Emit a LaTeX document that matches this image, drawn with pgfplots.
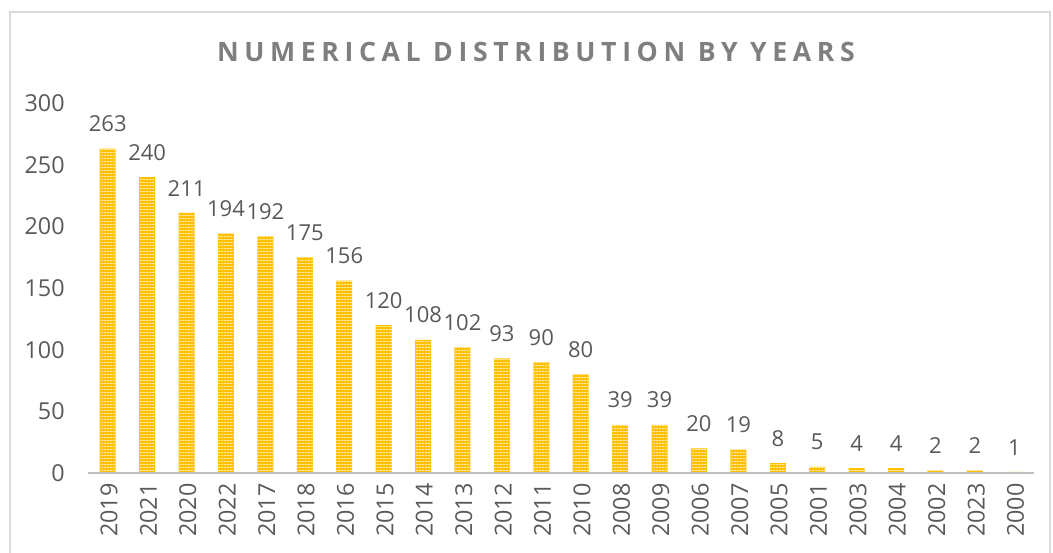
\documentclass[border=0pt]{standalone}
\usepackage{pgfplots}
\pgfplotsset{compat=1.18}
\usepackage{fontspec}
\setmainfont{Open Sans}
\newfontfamily\titlefont[LetterSpace=21]{Open Sans}
\usetikzlibrary{patterns}
\definecolor{barc}{HTML}{FFC000}
\definecolor{stripec}{HTML}{FFE8A0}
\definecolor{txt}{HTML}{595959}
\definecolor{ttl}{HTML}{7F7F7F}
\definecolor{axc}{HTML}{BFBFBF}
\definecolor{brd}{HTML}{D9D9D9}
\pgfdeclarepatternformonly{hstripes}{\pgfpointorigin}{\pgfqpoint{2.3pt}{2.3pt}}{\pgfqpoint{2.3pt}{2.3pt}}{%
  \pgfpathrectangle{\pgfqpoint{-0.1pt}{0pt}}{\pgfqpoint{2.5pt}{0.9pt}}\pgfusepath{fill}}
\pgfplotstableread{
idx year val
0 2019 263
1 2021 240
2 2020 211
3 2022 194
4 2017 192
5 2018 175
6 2016 156
7 2015 120
8 2014 108
9 2013 102
10 2012 93
11 2011 90
12 2010 80
13 2008 39
14 2009 39
15 2006 20
16 2007 19
17 2005 8
18 2001 5
19 2003 4
20 2004 4
21 2002 2
22 2023 2
23 2000 1
}\datatable
\begin{document}
\begin{tikzpicture}
\useasboundingbox (-66pt,-60pt) rectangle (723.75pt,354.75pt);
\draw[brd, line width=1pt] (-58.5pt,-80pt) rectangle (721.5pt,345.75pt);
\begin{axis}[
  at={(0,0)}, anchor=south west,
  scale only axis,
  width=709.5pt, height=277.5pt,
  xmin=-0.5, xmax=23.5,
  ymin=0, ymax=300,
  ytick={0,50,...,300},
  xtick=data,
  xticklabels from table={\datatable}{year},
  axis line style={draw=none},
  tick style={draw=none},
  /pgf/number format/assume math mode=true,
  ticklabel style={font=\fontsize{17.5}{20}\selectfont, text=txt},
  x tick label style={rotate=90, anchor=east, xshift=0pt, yshift=-1pt},
  y tick label style={xshift=-14pt},
  ybar, bar width=12pt,
  clip=false,
  nodes near coords,
  nodes near coords style={font=\fontsize{16.5}{19}\selectfont, text=txt, yshift=9pt},
]
\addplot[draw=none, fill=barc, postaction={pattern=hstripes, pattern color=stripec}] table[x=idx, y=val] {\datatable};
\draw[axc, line width=2pt] (axis cs:-0.5,0) -- (axis cs:23.5,0);
\end{axis}
\node[font=\titlefont\bfseries\fontsize{20}{24}\selectfont, text=ttl] at (336pt,316pt) {NUMERICAL DISTRIBUTION BY YEARS};
\end{tikzpicture}
\end{document}
